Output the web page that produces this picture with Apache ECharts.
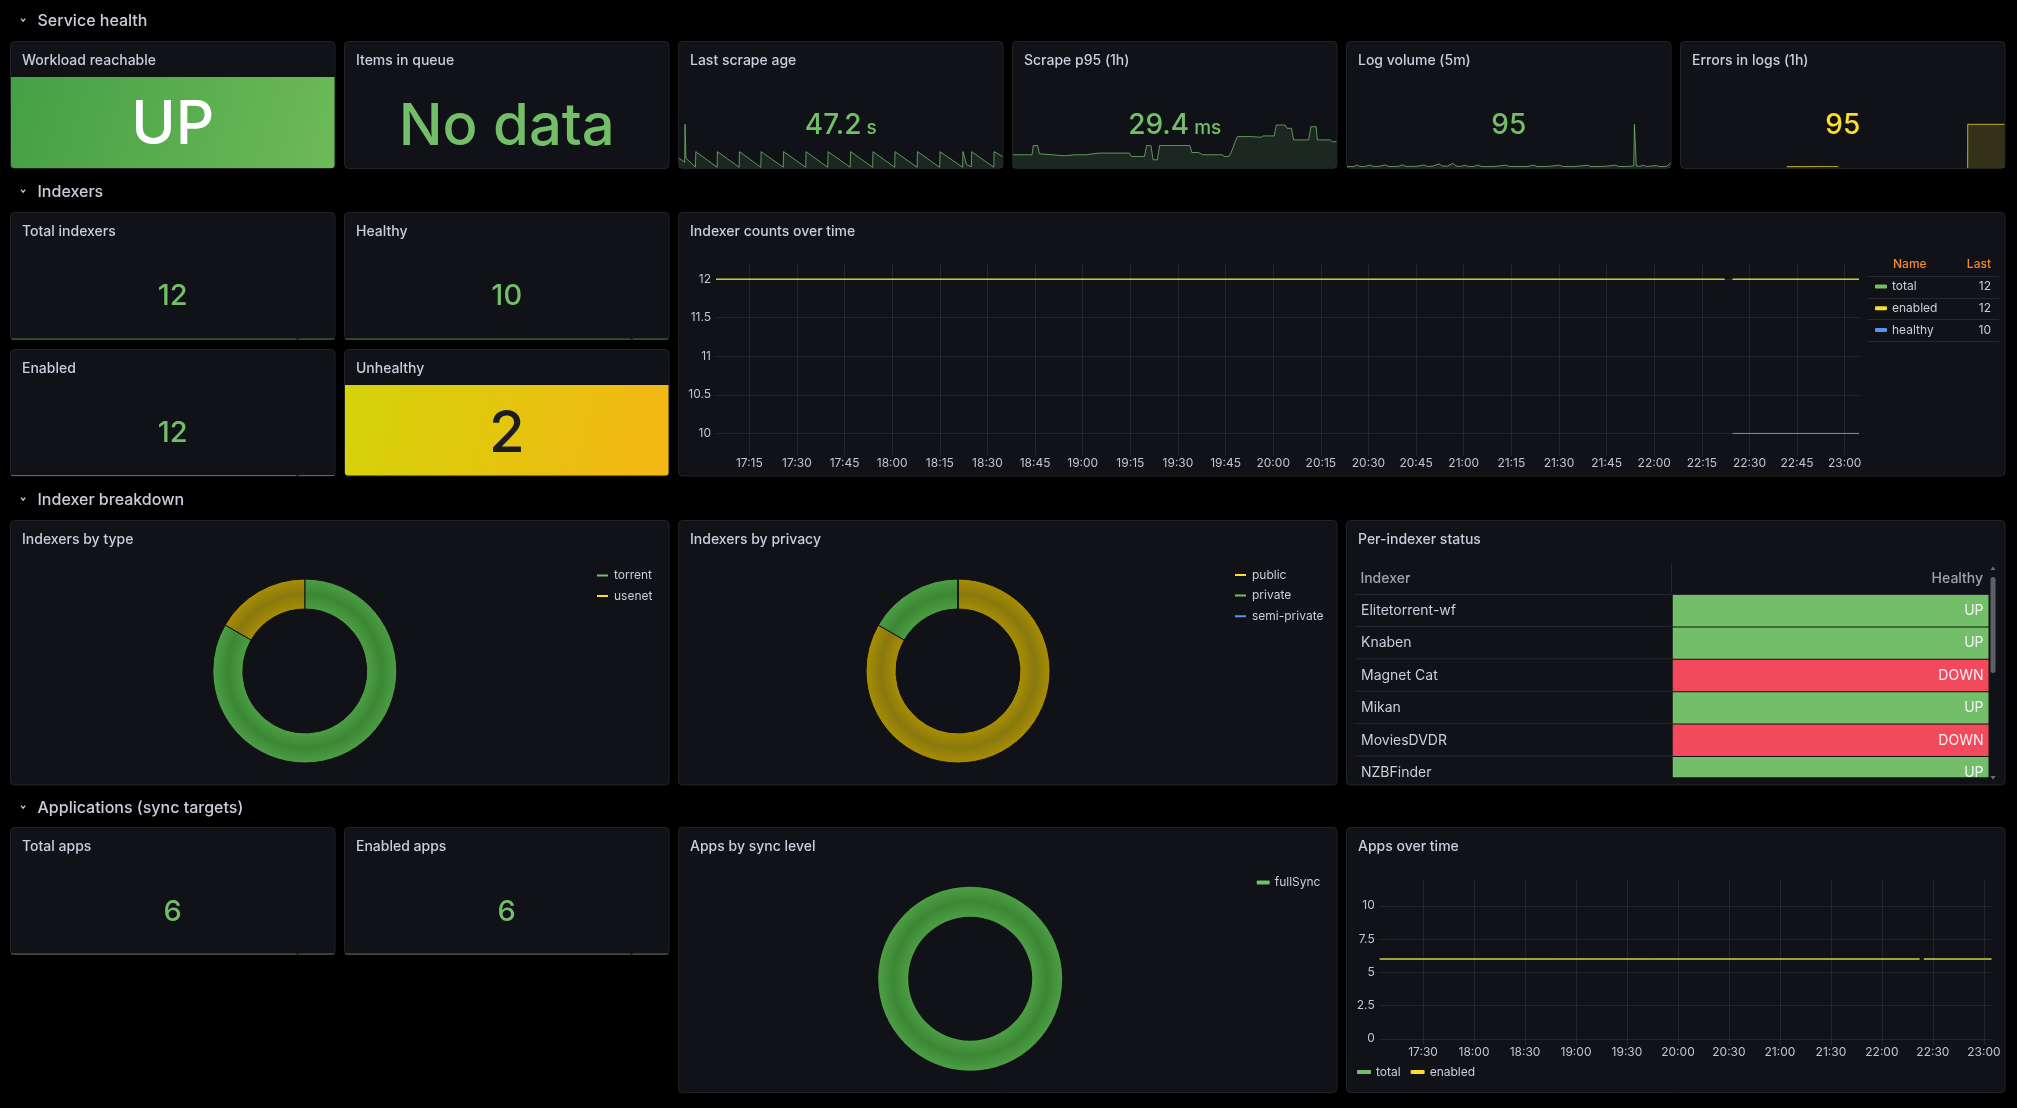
<!DOCTYPE html>
<html>
<head>
<meta charset="utf-8">
<title>Indexer dashboard</title>
<script src="https://cdn.jsdelivr.net/npm/echarts@6.0.0/dist/echarts.min.js"></script>
<style>
html,body{margin:0;padding:0;background:#000;overflow:hidden}
#chart{width:2017px;height:1108px}
</style>
</head>
<body>
<div id="chart"></div>
<script>
// ======================= DATA =======================
const sectionTitles = ['Service health', 'Indexers', 'Indexer breakdown', 'Applications (sync targets)'];

const rangeStart = '17:04:30';
const rangeEnd = '23:04:30';
const indexerTimeTicks = ['17:15','17:30','17:45','18:00','18:15','18:30','18:45','19:00','19:15','19:30','19:45','20:00',
  '20:15','20:30','20:45','21:00','21:15','21:30','21:45','22:00','22:15','22:30','22:45','23:00'];
const appsTimeTicks = ['17:30','18:00','18:30','19:00','19:30','20:00','20:30','21:00','21:30','22:00','22:30','23:00'];
const indexerCountTicks = [10, 10.5, 11, 11.5, 12];
const appsCountTicks = [0, 2.5, 5, 7.5, 10];

// gauge series sampled at these times (null = missed scrape)
const countTimes      = ['17:04:30', '22:22:10', '22:23:20', '22:24:40', '23:04:30'];
const indexersTotal   = [12, 12, null, 12, 12];
const indexersEnabled = [12, 12, null, 12, 12];
const indexersHealthy = [null, null, null, 10, 10];
const healthyStat     = [10, 10, null, 10, 10];
const appsTotal       = [6, 6, null, 6, 6];
const appsEnabled     = [6, 6, null, 6, 6];

// sparklines: [minutes after 17:00, value]
const scrapeAge = [[4.5,40],[10.8,24],[11.2,179],[12.3,40],[22.8,4],[23.2,67],[46.9,3],[47.3,67],[71.4,3],[71.8,67],
  [95.5,3],[95.9,67],[120.5,3],[120.9,67],[145.5,3],[145.9,67],[170.0,3],[170.4,67],[195.0,3],[195.4,67],[220.0,3],
  [220.4,67],[244.5,3],[244.9,67],[269.5,3],[269.9,67],[294.6,3],[295.0,67],[320.1,3],[320.5,67],[324.5,14],[329.8,5],
  [330.2,67],[354.8,3],[355.2,67],[364.5,47.2]];               // seconds
const scrapeP95 = [[4.5,14.8],[25.7,14.8],[27.1,25.1],[31.9,25.1],[33.9,15.9],[61.7,13.7],[73.8,14.8],[85.8,14.8],
  [100.2,16.7],[133.9,16.7],[136.3,12.9],[150.8,12.9],[153.2,25.1],[158,25.1],[160.4,9.2],[165.1,9.2],[167.6,25.1],
  [201.3,25.1],[203.6,17.3],[210.9,17.3],[215.7,14.8],[237.4,14.8],[239.8,12.9],[244.6,12.9],[247,16.7],[251.8,29.6],
  [254.2,35.1],[271.1,35.1],[280.6,34.4],[283.1,35.9],[295.1,35.9],[297.5,48.1],[307.1,48.1],[309.5,44.4],[314.4,44.4],
  [316.8,31.4],[333.5,31.4],[336,46.2],[341.8,46.2],[343.2,31.4],[357.6,31.4],[360.1,29.4],[364.5,29.4]];   // ms
const logVolume = [[4.5,25],[8,30],[12,28],[15.9,58],[19,30],[24,28],[30.2,55],[34,30],[40,32],[47,60],[51,30],[57,29],
  [62,33],[66.2,62],[70,31],[76,30],[83,34],[90.1,58],[94,30],[100,35],[106.9,78],[110,40],[116,34],[122.2,88],[126,36],
  [131,30],[135.6,52],[140,30],[145,29],[150,55],[154,30],[160,28],[170,31],[181.1,56],[185,29],[195,30],[205,29],
  [212.3,55],[216,29],[228,30],[241,54],[245,29],[258,30],[272.2,52],[276,29],[290,30],[303.3,54],[307,29],[318,30],
  [323.6,40],[324.4,840],[325.6,840],[326.4,40],[330,30],[334.4,52],[338,29],[348.8,48],[352,29],[360,30],[364.5,95]];
const logErrors = [[122.3,3],[179.7,3],[179.8,null],[323.5,0],[323.6,95],[364.5,95]];

const typeNames = ['torrent', 'usenet'];
const typeValues = [10, 2];
const privacyNames = ['public', 'private', 'semi-private'];
const privacyValues = [10, 2, 0];
const syncNames = ['fullSync'];
const syncValues = [6];

const tableColumns = ['Indexer', 'Healthy'];
const indexerNames = ['Elitetorrent-wf', 'Knaben', 'Magnet Cat', 'Mikan', 'MoviesDVDR', 'NZBFinder'];
const indexerStatus = ['UP', 'UP', 'DOWN', 'UP', 'DOWN', 'UP'];

const workloadStatus = 'UP';
const queueItems = null;

// ======================= STYLE / LAYOUT =======================
const FONT = 'Inter, "Noto Sans", "DejaVu Sans", sans-serif';
const TXT = '#ccccdc';
const AXC = '#c3c4ce';
const GRIDC = 'rgba(204,204,220,0.10)';
const PANEL_BG = '#111217';
const PANEL_BORDER = '#222329';
const GREEN = '#73bf69', YELLOW = '#fade2a', BLUE = '#5794f2', RED = '#f2495c';
const HEAD = '#ef8a33';

function rgba(hex, a) {
  const n = parseInt(hex.slice(1), 16);
  return 'rgba(' + (n >> 16) + ',' + ((n >> 8) & 255) + ',' + (n & 255) + ',' + a + ')';
}
function T(s) { const p = s.split(':').map(Number); return p[0] * 60 + p[1] + (p[2] || 0) / 60 - 17 * 60; }
const T0 = T(rangeStart), T1 = T(rangeEnd);
const zip = (times, vals) => times.map((t, i) => [T(t), vals[i]]);
function last(arr) {
  for (let i = arr.length - 1; i >= 0; i--) {
    const v = Array.isArray(arr[i]) ? arr[i][1] : arr[i];
    if (v != null) return v;
  }
  return null;
}

const colX = c => 10 + c * 83.5, colW = n => n * 83.5 - 8.5;
const P = (c, n, y, h) => ({ x: colX(c), y: y, w: colW(n), h: h });
const L = {
  workload: P(0, 4, 41, 128), queue: P(4, 4, 41, 128), scrapeAge: P(8, 4, 41, 128), scrapeP95: P(12, 4, 41, 128),
  logVol: P(16, 4, 41, 128), errors: P(20, 4, 41, 128),
  totalIdx: P(0, 4, 212, 128), healthy: P(4, 4, 212, 128), enabled: P(0, 4, 349, 127.5), unhealthy: P(4, 4, 349, 127.5),
  idxTime: P(8, 16, 212, 264.5),
  byType: P(0, 8, 520, 265.5), byPrivacy: P(8, 8, 520, 265.5), status: P(16, 8, 520, 265.5),
  totalApps: P(0, 4, 827, 128), enabledApps: P(4, 4, 827, 128), bySync: P(8, 8, 827, 266), appsTime: P(16, 8, 827, 266)
};
const titles = {
  workload: 'Workload reachable', queue: 'Items in queue', scrapeAge: 'Last scrape age', scrapeP95: 'Scrape p95 (1h)',
  logVol: 'Log volume (5m)', errors: 'Errors in logs (1h)', totalIdx: 'Total indexers', healthy: 'Healthy',
  enabled: 'Enabled', unhealthy: 'Unhealthy', idxTime: 'Indexer counts over time', byType: 'Indexers by type',
  byPrivacy: 'Indexers by privacy', status: 'Per-indexer status', totalApps: 'Total apps', enabledApps: 'Enabled apps',
  bySync: 'Apps by sync level', appsTime: 'Apps over time'
};
const sectionY = [21, 192, 500, 808];

// ======================= GRAPHIC (chrome + texts) =======================
const G = [];
const txt = (x, y, text, o) => G.push({ type: 'text', z: 10, x: x, y: y, silent: true,
  style: Object.assign({ text: text, fill: TXT, fontSize: 14, fontWeight: 400, fontFamily: FONT, align: 'left', verticalAlign: 'middle' }, o || {}) });

sectionTitles.forEach((s, i) => {
  const y = sectionY[i];
  G.push({ type: 'polyline', z: 10, silent: true, shape: { points: [[21, y - 2.3], [23.1, y + 0.2], [25.2, y - 2.3]] },
    style: { stroke: TXT, lineWidth: 1.3, fill: null } });
  txt(37.5, y, s, { fontSize: 16, fontWeight: 500 });
});
Object.keys(L).forEach(k => {
  const p = L[k];
  G.push({ type: 'rect', z: -10, silent: true, shape: { x: p.x + 0.5, y: p.y + 0.5, width: p.w - 1, height: p.h - 1, r: 4 },
    style: { fill: PANEL_BG, stroke: PANEL_BORDER, lineWidth: 1 } });
  txt(p.x + 12, p.y + 19.8, titles[k], { fontWeight: 500 });
});

// coloured stat backgrounds
function colorBlock(p, top, c1, c2) {
  G.push({ type: 'rect', z: -5, silent: true,
    shape: { x: p.x + 1, y: top, width: p.w - 2, height: p.y + p.h - 1 - top, r: [0, 0, 3, 3] },
    style: { fill: { type: 'linear', x: 0, y: 0, x2: 1, y2: 1, colorStops: [{ offset: 0, color: c1 }, { offset: 1, color: c2 }] } } });
}
colorBlock(L.workload, 77, '#45a044', '#6dba58');
colorBlock(L.unhealthy, 385, '#d4d30a', '#f5b614');

function statValue(p, text, cy, size, color) {
  G.push({ type: 'text', z: 10, silent: true, x: p.x + p.w / 2, y: cy + 0.0635 * size,
    style: { text: text, fill: color, fontSize: size, fontWeight: 500, fontFamily: FONT, align: 'center', verticalAlign: 'middle' } });
}
function statValueUnit(p, val, unit, cy, size, usize, color) {
  G.push({ type: 'text', z: 10, silent: true, x: p.x + p.w / 2, y: cy + 0.0635 * size,
    style: { text: '{v|' + val + '}{u| ' + unit + '}', align: 'center', verticalAlign: 'middle',
      rich: { v: { fill: color, fontSize: size, lineHeight: size, fontWeight: 500, fontFamily: FONT, verticalAlign: 'bottom' },
              u: { fill: color, fontSize: usize, lineHeight: usize, fontWeight: 500, fontFamily: FONT, verticalAlign: 'bottom', padding: [0, 0, 2, 0] } } } });
}
statValue(L.workload, workloadStatus, 122.5, 60, '#ffffff');
statValue(L.queue, queueItems == null ? 'No data' : String(queueItems), 123.7, 58, GREEN);
statValueUnit(L.scrapeAge, last(scrapeAge).toFixed(1), 's', 123.8, 28, 19, GREEN);
statValueUnit(L.scrapeP95, last(scrapeP95).toFixed(1), 'ms', 123.8, 28, 19, GREEN);
statValue(L.logVol, String(last(logVolume)), 123.7, 28, GREEN);
statValue(L.errors, String(last(logErrors)), 123.7, 28, YELLOW);
statValue(L.totalIdx, String(last(indexersTotal)), 294.5, 29, GREEN);
statValue(L.healthy, String(last(healthyStat)), 294.5, 29, GREEN);
statValue(L.enabled, String(last(indexersEnabled)), 431.5, 29, GREEN);
statValue(L.unhealthy, String(last(indexersTotal) - last(healthyStat)), 430.5, 58, '#1c1d21');
statValue(L.totalApps, String(last(appsTotal)), 910.8, 29, GREEN);
statValue(L.enabledApps, String(last(appsEnabled)), 910.8, 29, GREEN);

// legend table header for indexer counts
txt(1893, 264.5, 'Name', { fill: HEAD, fontSize: 12, fontWeight: 500 });
txt(1991, 264.5, 'Last', { fill: HEAD, fontSize: 12, fontWeight: 500, align: 'right' });
[276.5, 298.5, 319.5, 341.5].forEach(y => G.push({ type: 'line', z: 5, silent: true,
  shape: { x1: 1867, y1: y, x2: 1999, y2: y }, style: { stroke: 'rgba(204,204,220,0.12)', lineWidth: 1 } }));

// table header divider + scrollbar
G.push({ type: 'line', z: 5, silent: true, shape: { x1: 1671.5, y1: 564, x2: 1671.5, y2: 593 }, style: { stroke: 'rgba(204,204,220,0.12)', lineWidth: 1 } });
G.push({ type: 'rect', z: 5, silent: true, shape: { x: 1990.5, y: 577, width: 5, height: 96, r: 2.5 }, style: { fill: '#5f6066' } });
G.push({ type: 'polygon', z: 5, silent: true, shape: { points: [[1990.5, 570], [1995.5, 570], [1993, 566.5]] }, style: { fill: '#6c6d73' } });
G.push({ type: 'polygon', z: 5, silent: true, shape: { points: [[1990.5, 776], [1995.5, 776], [1993, 779.5]] }, style: { fill: '#6c6d73' } });

// ======================= CHART COMPONENTS =======================
const grids = [], xAxes = [], yAxes = [], series = [], legends = [];
function addGrid(box, xa, ya) {
  grids.push(Object.assign({ outerBoundsMode: 'none', containLabel: false }, box));
  const gi = grids.length - 1;
  xa.gridIndex = gi; ya.gridIndex = gi; xAxes.push(xa); yAxes.push(ya);
  return gi;
}
const hiddenTime = () => ({ type: 'value', min: T0, max: T1, show: false });

function addSpark(name, p, pts, top, color, fillAlpha, lineAlpha) {
  const vals = pts.map(d => d[1]).filter(v => v != null);
  const mx = Math.max.apply(null, vals), mn = Math.min.apply(null, vals);
  const flat = mx === mn;
  const bottom = p.y + p.h - 1;
  const gi = addGrid({ left: p.x + 1, top: top, width: p.w - 2, height: bottom - top }, hiddenTime(),
    { type: 'value', min: flat ? mn : 0, max: flat ? mn + 1 : mx, show: false });
  const s = { name: name, type: 'line', xAxisIndex: gi, yAxisIndex: gi, data: pts, symbol: 'none', clip: false, silent: true,
    connectNulls: false, lineStyle: { color: rgba(color, lineAlpha), width: 1 }, itemStyle: { color: color }, z: 3 };
  if (fillAlpha) s.areaStyle = { color: rgba(color, fillAlpha), origin: 'start' };
  series.push(s);
}
addSpark('spark-age', L.scrapeAge, scrapeAge, 124.3, GREEN, 0.18, 0.75);
addSpark('spark-p95', L.scrapeP95, scrapeP95, 125, GREEN, 0.18, 0.75);
addSpark('spark-log', L.logVol, logVolume, 124.3, GREEN, 0.18, 0.75);
addSpark('spark-err', L.errors, logErrors, 124.3, YELLOW, 0.22, 0.75);
addSpark('spark-total', L.totalIdx, zip(countTimes, indexersTotal), 300, GREEN, 0, 0.55);
addSpark('spark-healthy', L.healthy, zip(countTimes, healthyStat), 300, GREEN, 0, 0.55);
addSpark('spark-enabled', L.enabled, zip(countTimes, indexersEnabled), 440, GREEN, 0, 0.55);
addSpark('spark-apps', L.totalApps, zip(countTimes, appsTotal), 920, GREEN, 0, 0.55);
addSpark('spark-appsen', L.enabledApps, zip(countTimes, appsEnabled), 920, GREEN, 0, 0.55);

function timeAxis(ticks, margin) {
  const vals = ticks.map(T);
  return { type: 'value', min: T0, max: T1, axisLine: { show: false },
    axisTick: { show: false, customValues: vals },
    axisLabel: { customValues: vals, color: AXC, fontSize: 12, fontFamily: FONT, margin: margin,
      formatter: v => { const i = vals.findIndex(x => Math.abs(x - v) < 1e-6); return i >= 0 ? ticks[i] : ''; } },
    splitLine: { show: true, lineStyle: { color: GRIDC, width: 1 } } };
}
function countAxis(ticks, mn, mx) {
  return { type: 'value', min: mn, max: mx, axisLine: { show: false },
    axisTick: { show: false, customValues: ticks },
    axisLabel: { customValues: ticks, color: AXC, fontSize: 12, fontFamily: FONT, margin: 5 },
    splitLine: { show: true, lineStyle: { color: GRIDC, width: 1 } } };
}
function tsLine(name, gi, pts, color) {
  series.push({ name: name, type: 'line', xAxisIndex: gi, yAxisIndex: gi, data: pts, symbol: 'none', silent: true,
    connectNulls: false, lineStyle: { color: color, width: 1 }, itemStyle: { color: color }, z: 3 });
}

// Indexer counts over time
const giIdx = addGrid({ left: 716, top: 263, width: 1859 - 716, height: 455 - 263 },
  timeAxis(indexerTimeTicks, 2), countAxis(indexerCountTicks, 9.72, 12.21));
tsLine('total', giIdx, zip(countTimes, indexersTotal), GREEN);
tsLine('enabled', giIdx, zip(countTimes, indexersEnabled), YELLOW);
tsLine('healthy', giIdx, zip(countTimes, indexersHealthy), BLUE);
const lastVals = { total: last(indexersTotal), enabled: last(indexersEnabled), healthy: last(indexersHealthy) };
legends.push({ orient: 'vertical', left: 1875, top: 280.5, itemWidth: 12, itemHeight: 4, itemGap: 9.8, icon: 'roundRect',
  padding: 0, selectedMode: false,
  data: [{ name: 'total', itemStyle: { color: GREEN } }, { name: 'enabled', itemStyle: { color: YELLOW } }, { name: 'healthy', itemStyle: { color: BLUE } }],
  formatter: n => '{n|' + n + '}{v|' + lastVals[n] + '}',
  textStyle: { color: TXT, fontSize: 12, fontFamily: FONT, rich: { n: { width: 83, fontSize: 12, fontFamily: FONT, color: TXT }, v: { width: 16, align: 'right', fontSize: 12, fontFamily: FONT, color: TXT } } } });

// Apps over time
const giApps = addGrid({ left: 1379.7, top: 879.3, width: 1991.5 - 1379.7, height: 1045 - 879.3 },
  timeAxis(appsTimeTicks, 1), countAxis(appsCountTicks, -0.47, 12));
tsLine('total', giApps, zip(countTimes, appsTotal), GREEN);
tsLine('enabled', giApps, zip(countTimes, appsEnabled), YELLOW);
legends.push({ orient: 'horizontal', left: 1357, top: 1066, itemWidth: 14, itemHeight: 4, itemGap: 10, icon: 'roundRect',
  padding: 0, selectedMode: false,
  data: [{ name: 'total', itemStyle: { color: GREEN } }, { name: 'enabled', itemStyle: { color: YELLOW } }],
  textStyle: { color: TXT, fontSize: 12, fontFamily: FONT } });

// Pies
const pieColors = { torrent: GREEN, usenet: YELLOW, public: YELLOW, private: GREEN, 'semi-private': BLUE, fullSync: GREEN };
const ringTone = { [GREEN]: ['#4c9e44', '#3b8735'], [YELLOW]: ['#a88e03', '#89780d'], [BLUE]: ['#4d7fd0', '#3d68ad'] };
function ringGrad(cx, cy, rin, rout, color) {
  const t = ringTone[color], f = rin / rout;
  return { type: 'radial', x: cx, y: cy, r: rout, global: true,
    colorStops: [{ offset: 0, color: t[0] }, { offset: f, color: t[0] }, { offset: (f + 1) / 2, color: t[1] }, { offset: 1, color: t[0] }] };
}
function addPie(names, values, cx, cy, border, legendPos) {
  series.push({ type: 'pie', center: [cx, cy], radius: [62, 92], startAngle: 90, clockwise: true, silent: true,
    label: { show: false }, labelLine: { show: false }, emphasis: { disabled: true }, z: 3,
    itemStyle: { borderColor: PANEL_BG, borderWidth: border },
    data: names.map((n, i) => ({ name: n, value: values[i], itemStyle: { color: ringGrad(cx, cy, 62, 92, pieColors[n]) } })) });
  legends.push({ orient: 'vertical', left: legendPos[0], top: legendPos[1], itemWidth: 13, itemHeight: 4, itemGap: 8.6,
    icon: 'roundRect', padding: 0, selectedMode: false,
    data: names.map(n => ({ name: n, itemStyle: { color: pieColors[n] } })),
    textStyle: { color: TXT, fontSize: 12, fontFamily: FONT } });
}
addPie(typeNames, typeValues, 304.8, 671, 1, [595, 569.5]);
addPie(privacyNames, privacyValues, 958, 671, 1, [1233, 569]);
addPie(syncNames, syncValues, 970.2, 978.7, 0, [1256.7, 876.5]);

// Per-indexer status table
const rowH = 32.4;
const tblTop = 594.5, tblBottom = 777.7;
const giTbl = addGrid({ left: 1355, top: tblTop, width: 1988.5 - 1355, height: tblBottom - tblTop },
  { type: 'category', data: tableColumns, position: 'top', boundaryGap: true,
    axisTick: { show: false }, splitLine: { show: false },
    axisLine: { show: true, lineStyle: { color: 'rgba(204,204,220,0.12)', width: 1 } },
    axisLabel: { interval: 0, margin: 8.5, color: '#a1a2ad', fontSize: 14, fontWeight: 500, fontFamily: FONT,
      formatter: (v, i) => (i === 0 ? '{l|' + v + '}' : '{r|' + v + '}'),
      rich: { l: { width: 306, align: 'left', color: '#a1a2ad', fontSize: 14, fontWeight: 500, fontFamily: FONT },
              r: { width: 306, align: 'right', color: '#a1a2ad', fontSize: 14, fontWeight: 500, fontFamily: FONT } } } },
  { type: 'value', inverse: true, min: 0, max: (tblBottom - tblTop) / rowH, show: false });
const cells = [];
indexerNames.forEach((n, r) => { cells.push([0, r]); cells.push([1, r]); });
series.push({ type: 'custom', xAxisIndex: giTbl, yAxisIndex: giTbl, data: cells, encode: { x: 0, y: 1 }, silent: true, z: 3,
  renderItem: function (params, api) {
    const c = api.value(0), r = api.value(1);
    const cs = params.coordSys, lim = cs.y + cs.height;
    const p0 = api.coord([c, r]), p1 = api.coord([c, r + 1]);
    const bw = api.size([1, 0])[0];
    const left = p0[0] - bw / 2, right = p0[0] + bw / 2;
    const top = p0[1], bot = Math.min(p1[1], lim), mid = (p0[1] + p1[1]) / 2;
    if (c === 0) {
      const ch = [{ type: 'text', style: { text: indexerNames[r], x: left + 6, y: mid, fill: TXT, fontSize: 14, fontFamily: FONT, align: 'left', verticalAlign: 'middle' } }];
      if (p1[1] <= lim) ch.push({ type: 'line', shape: { x1: left, y1: p1[1] - 0.5, x2: right, y2: p1[1] - 0.5 }, style: { stroke: 'rgba(204,204,220,0.12)', lineWidth: 1 } });
      return { type: 'group', children: ch };
    }
    const up = indexerStatus[r] === 'UP';
    return { type: 'group', children: [
      { type: 'rect', shape: { x: left + 1, y: top + 0.5, width: bw - 1, height: Math.max(0, bot - top - 1) }, style: { fill: up ? GREEN : RED } },
      { type: 'text', style: { text: indexerStatus[r], x: right - 5, y: mid, fill: '#f4f5f5', fontSize: 14, fontFamily: FONT, align: 'right', verticalAlign: 'middle' } }
    ] };
  } });

const option = {
  backgroundColor: '#000000',
  animation: false,
  textStyle: { fontFamily: FONT },
  tooltip: { show: false },
  grid: grids, xAxis: xAxes, yAxis: yAxes, legend: legends, series: series,
  graphic: { elements: G }
};
const chart = echarts.init(document.getElementById('chart'), null, { renderer: 'canvas', width: 2017, height: 1108 });
chart.setOption(option);
</script>
</body>
</html>
